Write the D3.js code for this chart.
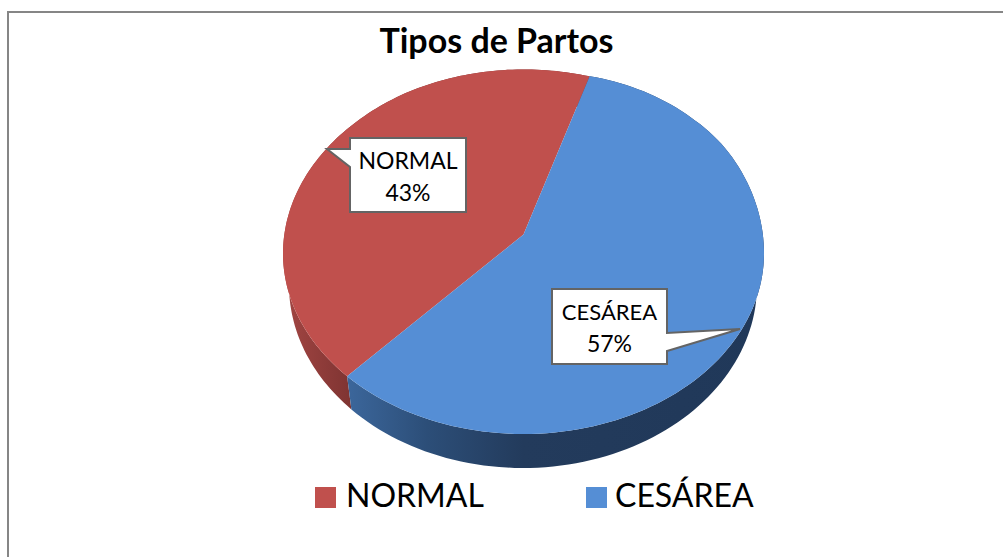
<!DOCTYPE html>
<html>
<head>
<meta charset="utf-8">
<script src="https://cdn.jsdelivr.net/npm/d3@7"></script>
<style>
  html, body { margin: 0; padding: 0; background: #fff; overflow: hidden; }
  text { font-family: Lato, "Open Sans", sans-serif; fill: #000; }
</style>
</head>
<body>
<svg id="chart" width="1003" height="557"></svg>
<script>
var chartTitle = "Tipos de Partos";
var categories = ["NORMAL", "CESÁREA"];
var values = [43, 57];
var percentLabels = ["43%", "57%"];
var topColors = ["#c0504d", "#558ed5"];

var svg = d3.select("#chart");

// frame: only top and left edges are inside the crop
svg.append("path")
  .attr("d", "M8,557V12H1003")
  .attr("fill", "none")
  .attr("stroke", "#868686")
  .attr("stroke-width", 2);

// unit disc -> pixels, top face and the (smaller, lower) bottom face
var topX = d3.scaleLinear().domain([-1, 1]).range([283, 764]),
    topY = d3.scaleLinear().domain([-1, 1]).range([73, 434]),
    botX = d3.scaleLinear().domain([-1, 1]).range([289, 757]),
    botY = d3.scaleLinear().domain([-1, 1]).range([102, 468]);

// upper rim is not a true ellipse, it bulges towards the upper right
var bulge = d3.scaleLinear()
  .domain([-1, -0.5, 0.25, 0.7, 0.85, 1])
  .range([1.5, 3.5, 3.6, 9, 13, 13]);

// the pie centre sits above the ellipse centre (perspective)
var boost = -0.105;
function project(angle) {
  var x = Math.sin(angle), y = -Math.cos(angle),
      d = 1 + boost * y;
  return [x * Math.sqrt(1 - boost * boost) / d, (y + boost) / d];
}

var start = 222.9 * Math.PI / 180;
var pie = d3.pie().sort(null).startAngle(start).endAngle(start + 2 * Math.PI);
var slices = pie(values);

var line = d3.line();

function rim(a0, a1) {
  return d3.range(0, 121).map(function(i) {
    return project(a0 + (a1 - a0) * i / 120);
  });
}
function toTop(p) {
  var lift = p[1] < 0 ? bulge(p[0]) * Math.sqrt(Math.max(0, 1 - p[0] * p[0])) : 0;
  return [topX(p[0]), topY(p[1]) - lift];
}
function toBot(p) { return [botX(p[0]), botY(p[1])]; }

var defs = svg.append("defs");
function sideGradient(id, stops) {
  var g = defs.append("linearGradient").attr("id", id)
    .attr("gradientUnits", "userSpaceOnUse")
    .attr("x1", 283).attr("x2", 764).attr("y1", 0).attr("y2", 0);
  stops.forEach(function(s) {
    g.append("stop").attr("offset", s[0]).attr("stop-color", s[1]);
  });
}
sideGradient("sideRed", [[0, "#a34643"], [0.14, "#7f3432"]]);
sideGradient("sideBlue", [[0.13, "#3c679c"], [0.3, "#2c4e78"], [0.5, "#233b5c"], [1, "#203859"]]);

// side walls first, the top face covers whatever is above the rim
var sideIds = ["sideRed", "sideBlue"];
slices.forEach(function(s, i) {
  var r = rim(s.startAngle, s.endAngle);
  var pts = r.map(toBot).concat(r.slice().reverse().map(toTop));
  svg.append("path")
    .attr("d", line(pts) + "Z")
    .attr("fill", "url(#" + sideIds[i] + ")");
});

// top face
slices.forEach(function(s, i) {
  var pts = [[topX(0), topY(boost)]].concat(rim(s.startAngle, s.endAngle).map(toTop));
  svg.append("path")
    .attr("d", line(pts) + "Z")
    .attr("fill", topColors[i]);
});

// title
svg.append("text")
  .attr("x", 496.5).attr("y", 53)
  .attr("text-anchor", "middle")
  .attr("font-size", 34).attr("font-weight", 700)
  .text(chartTitle);

// callouts
var callouts = [
  { box: [350, 138, 466, 212], tip: [327, 149], join: [[350, 149], [350, 167]], side: "left", size: 23 },
  { box: [552, 289, 667, 364], tip: [740, 329], join: [[667, 333], [667, 351]], side: "right", size: 22 }
];
callouts.forEach(function(c, i) {
  var b = c.box, pts;
  if (c.side == "left") {
    pts = [[b[0], b[1]], [b[2], b[1]], [b[2], b[3]], [b[0], b[3]], c.join[1], c.tip, c.join[0]];
  } else {
    pts = [[b[0], b[1]], [b[2], b[1]], c.join[0], c.tip, c.join[1], [b[2], b[3]], [b[0], b[3]]];
  }
  svg.append("path")
    .attr("d", line(pts) + "Z")
    .attr("fill", "#fff")
    .attr("stroke", "#646464")
    .attr("stroke-width", 2);
  var cx = (b[0] + b[2]) / 2;
  svg.append("text").attr("x", cx).attr("y", b[1] + 31)
    .attr("text-anchor", "middle").attr("font-size", c.size).text(categories[i]);
  svg.append("text").attr("x", cx).attr("y", b[1] + 63)
    .attr("text-anchor", "middle").attr("font-size", 23).text(percentLabels[i]);
});

// legend
var legendX = [315, 586],
    legendTextX = [346, 615];
categories.forEach(function(c, i) {
  svg.append("rect")
    .attr("x", legendX[i]).attr("y", 487)
    .attr("width", 21).attr("height", 21)
    .attr("fill", topColors[i]);
  svg.append("text")
    .attr("x", legendTextX[i]).attr("y", 507)
    .attr("font-size", 32).text(c);
});
</script>
</body>
</html>
